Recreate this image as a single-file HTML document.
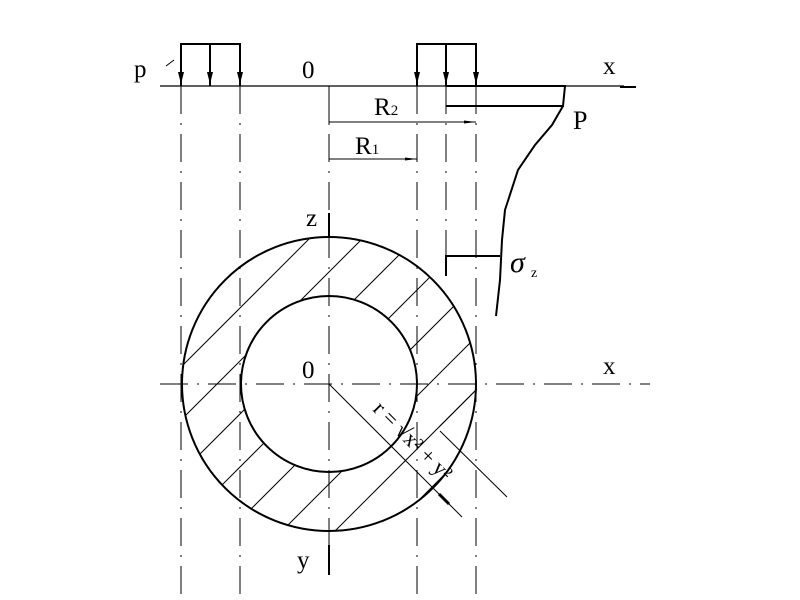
<!DOCTYPE html>
<html><head><style>html,body{margin:0;padding:0;background:#fff;width:800px;height:600px;overflow:hidden}svg{display:block;overflow:hidden}text{font-family:"Liberation Serif",serif;fill:#000}</style></head>
<body>
<svg width="800" height="600" viewBox="0 0 800 600">
<defs>
<clipPath id="ann"><path clip-rule="evenodd" d="M476,384 A147,147 0 1,0 182,384 A147,147 0 1,0 476,384 Z M417,384 A88,88 0 1,0 241,384 A88,88 0 1,0 417,384 Z"/></clipPath>
<marker id="ar" markerWidth="12" markerHeight="6" refX="12" refY="3" orient="auto" markerUnits="userSpaceOnUse"><path d="M0,1.5 L12,3 L0,4.5Z" fill="#000"/></marker>
</defs>
<g stroke="#000" fill="none">
<line x1="160" y1="86" x2="624" y2="86" stroke-width="1.2"/>
<line x1="620" y1="87" x2="636" y2="87" stroke-width="2"/>
<g stroke-width="1" stroke-dasharray="28,9,2,9">
<line x1="181" y1="86" x2="181" y2="596"/>
<line x1="240" y1="86" x2="240" y2="596"/>
<line x1="417" y1="86" x2="417" y2="596"/>
<line x1="446" y1="86" x2="446" y2="256"/>
<line x1="476" y1="86" x2="476" y2="596"/>
<line x1="329" y1="86" x2="329" y2="545"/>
<line x1="160" y1="384" x2="650" y2="384"/>
</g>
<line x1="329" y1="86" x2="329" y2="125" stroke-width="1"/>
<g stroke-width="2">
<polyline points="181,86 181,44 240,44 240,86"/>
<line x1="210" y1="44" x2="210" y2="86"/>
<polyline points="417,86 417,44 476,44 476,86"/>
<line x1="446" y1="44" x2="446" y2="86"/>
</g>
<g fill="#000" stroke="none">
<path d="M178,72 L184,72 L181,84Z"/><path d="M207,72 L213,72 L210,84Z"/><path d="M237,72 L243,72 L240,84Z"/>
<path d="M414,72 L420,72 L417,84Z"/><path d="M443,72 L449,72 L446,84Z"/><path d="M473,72 L479,72 L476,84Z"/>
</g>
<line x1="166" y1="66" x2="174" y2="60" stroke-width="1"/>
<line x1="329" y1="122" x2="476" y2="122" stroke-width="1" marker-end="url(#ar)"/>
<line x1="329" y1="159" x2="417" y2="159" stroke-width="1" marker-end="url(#ar)"/>
<polyline points="446,86 565,86 563,106 446,106" stroke-width="2"/>
<polyline points="563,106 552,125 535,145 518,170 505,210 502,240 500,280 496,316" stroke-width="2"/>
<polyline points="446,276 446,256 500,256" stroke-width="2"/>
<g clip-path="url(#ann)" stroke-width="1">
<line x1="182" y1="260" x2="205" y2="237"/>
<line x1="182" y1="313" x2="258" y2="237"/>
<line x1="182" y1="366" x2="311" y2="237"/>
<line x1="182" y1="419" x2="364" y2="237"/>
<line x1="182" y1="472" x2="417" y2="237"/>
<line x1="182" y1="525" x2="470" y2="237"/>
<line x1="229" y1="531" x2="476" y2="284"/>
<line x1="282" y1="531" x2="476" y2="337"/>
<line x1="335" y1="531" x2="476" y2="390"/>
<line x1="388" y1="531" x2="476" y2="443"/>
</g>
<line x1="440" y1="426" x2="477" y2="389" stroke-width="1"/>
<circle cx="329" cy="384" r="147" stroke-width="2"/>
<circle cx="329" cy="384" r="88" stroke-width="2"/>
<line x1="329" y1="213" x2="329" y2="237" stroke-width="2"/>
<line x1="329" y1="545" x2="329" y2="575" stroke-width="2"/>
<line x1="329" y1="384" x2="462" y2="517" stroke-width="1"/>
<line x1="440" y1="431" x2="507" y2="497" stroke-width="1"/>
<line x1="439" y1="494" x2="449" y2="504" stroke-width="3"/>
</g>
<g font-size="25">
<text x="134" y="77">p</text>
<text x="302" y="78">0</text>
<text x="603" y="74">x</text>
<text x="573" y="129" font-size="26">P</text>
<text x="374" y="115">R<tspan font-size="15">2</tspan></text>
<text x="355" y="154">R<tspan font-size="15">1</tspan></text>
<text x="306" y="226">z</text>
<text x="302" y="378">0</text>
<text x="603" y="374">x</text>
<text x="297" y="568">y</text>
<text x="510" y="272" font-style="italic" font-size="30">σ</text>
<text x="531" y="277" font-size="14">z</text>
<text transform="translate(372,410) rotate(45)" font-size="22">r = √x² + y²</text>
</g>
</svg>
</body></html>
